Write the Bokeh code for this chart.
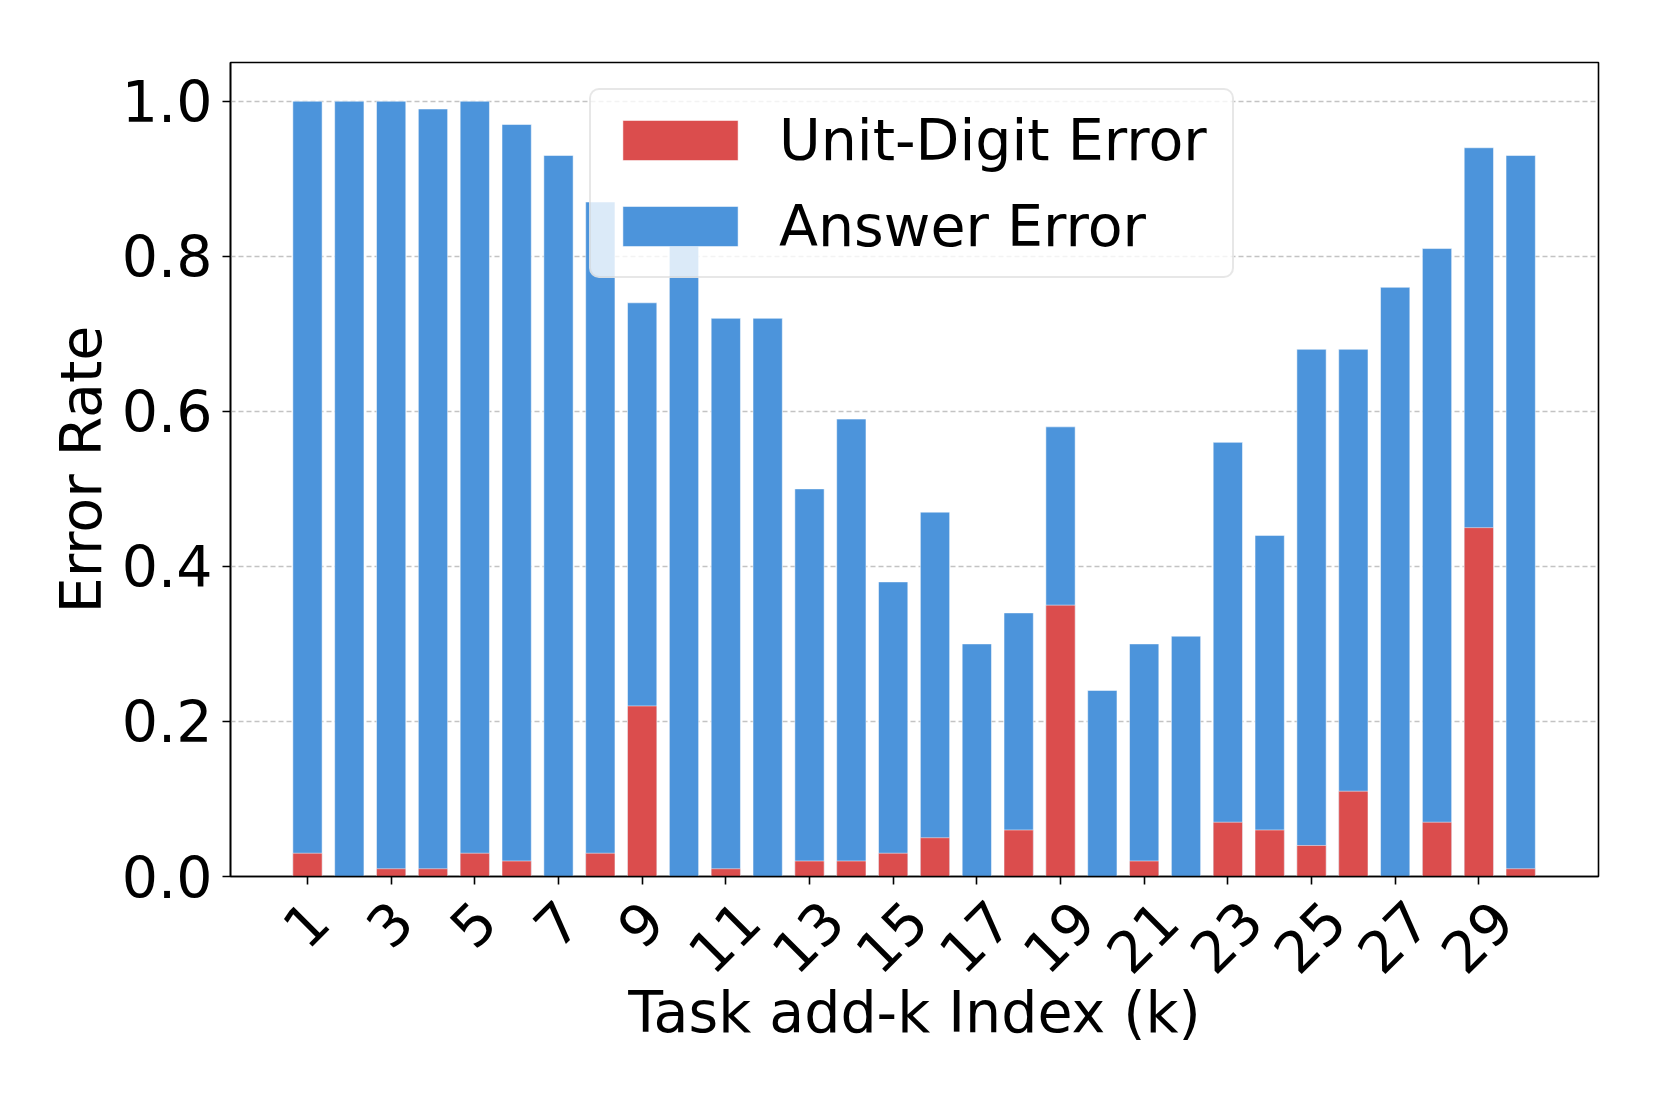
import math
from bokeh.plotting import figure
from bokeh.models import (ColumnDataSource, FixedTicker, Legend, LegendItem,
                          Range1d, PrintfTickFormatter)
from bokeh.core.properties import value
from bokeh.embed import file_html
from bokeh.resources import INLINE

# ---- data ----
tasks = list(range(1, 31))
answer_error = [1.00, 1.00, 1.00, 0.99, 1.00, 0.97, 0.93, 0.87, 0.74, 0.82,
                0.72, 0.72, 0.50, 0.59, 0.38, 0.47, 0.30, 0.34, 0.58, 0.24,
                0.30, 0.31, 0.56, 0.44, 0.68, 0.68, 0.76, 0.81, 0.94, 0.93]
unit_digit_error = [0.03, 0.00, 0.01, 0.01, 0.03, 0.02, 0.00, 0.03, 0.22, 0.00,
                    0.01, 0.00, 0.02, 0.02, 0.03, 0.05, 0.00, 0.06, 0.35, 0.00,
                    0.02, 0.00, 0.07, 0.06, 0.04, 0.11, 0.00, 0.07, 0.45, 0.01]
x_tick_values = list(range(1, 30, 2))
x_tick_labels = [str(v) for v in x_tick_values]
y_tick_values = [0.0, 0.2, 0.4, 0.6, 0.8, 1.0]

BLUE = "#4C94DB"
RED = "#DB4D4D"
FONT = "DejaVu Sans"
FS_PX = 57
FS = f"{FS_PX}px"

src = ColumnDataSource(dict(task=tasks, answer=answer_error, unit=unit_digit_error))

p = figure(width=1645, height=1090,
           x_range=Range1d(-0.84, 31.86), y_range=Range1d(0, 1.05),
           output_backend="svg", toolbar_location=None,
           min_border_left=230, min_border_right=47,
           min_border_top=62, min_border_bottom=214)
p.background_fill_color = "white"
p.border_fill_color = "white"
p.outline_line_color = "black"
p.outline_line_width = 1.6

blue = p.vbar(x="task", top="answer", bottom=0, width=0.7, source=src,
              fill_color=BLUE, line_color="white", line_alpha=0.5, line_width=1)
red = p.vbar(x="task", top="unit", bottom=0, width=0.7, source=src,
             fill_color=RED, line_color="white", line_alpha=0.5, line_width=1)

# grid
p.xgrid.visible = False
p.ygrid.ticker = FixedTicker(ticks=y_tick_values)
p.ygrid.grid_line_color = "#bdbdbd"
p.ygrid.grid_line_alpha = 0.9
p.ygrid.grid_line_dash = "5 3"
p.ygrid.grid_line_width = 1.3

# axes
for ax in (p.xaxis[0], p.yaxis[0]):
    ax.major_label_text_font = FONT
    ax.major_label_text_font_size = FS
    ax.major_label_text_color = "black"
    ax.axis_label_text_font = FONT
    ax.axis_label_text_font_size = FS
    ax.axis_label_text_font_style = "normal"
    ax.axis_label_text_color = "black"
    ax.axis_line_color = "black"
    ax.axis_line_width = 1.6
    ax.major_tick_line_color = "black"
    ax.major_tick_line_width = 1.6
    ax.major_tick_out = 8
    ax.major_tick_in = 0
    ax.minor_tick_out = 0
    ax.minor_tick_in = 0
    ax.major_label_standoff = 10

p.yaxis.ticker = FixedTicker(ticks=y_tick_values)
p.yaxis.formatter = PrintfTickFormatter(format="%.1f")
p.yaxis.axis_label = "Error Rate"
p.yaxis.axis_label_standoff = 5

# x axis: ticks from the axis, labels drawn centred (matplotlib style) below
p.xaxis.ticker = FixedTicker(ticks=x_tick_values)
p.xaxis.major_label_overrides = {v: "" for v in x_tick_values}
p.xaxis.major_label_standoff = 0
p.xaxis.axis_label = "Task add-k Index (k)"
p.xaxis.axis_label_standoff = 94

# centre of each rotated label sits half its rotated bounding box below the pad
char_w = 0.636 * FS_PX
text_h = 1.16 * FS_PX
label_yoff = [(11 + (char_w * len(s) + text_h) / (2 * math.sqrt(2))) for s in x_tick_labels]
lab_src = ColumnDataSource(dict(x=x_tick_values, y=[0.0] * len(x_tick_values),
                                text=x_tick_labels, yoff=label_yoff))
p.text(x="x", y="y", text="text", source=lab_src, level="overlay",
       y_offset="yoff", x_offset=-2, angle=math.pi / 4,
       text_align="center", text_baseline="middle",
       text_font=value(FONT), text_font_size=FS, text_color="black")

legend = Legend(items=[LegendItem(label="Unit-Digit Error", renderers=[red]),
                       LegendItem(label="Answer Error", renderers=[blue])],
                location=(359, 598))
legend.label_text_font = FONT
legend.label_text_font_size = FS
legend.label_text_color = "black"
legend.glyph_width = 144
legend.glyph_height = 50
legend.label_standoff = 27
legend.label_width = 436
legend.padding = 17
legend.spacing = 20
legend.margin = 0
legend.border_line_color = "#d0d0d0"
legend.border_line_width = 2
legend.background_fill_color = "white"
legend.background_fill_alpha = 0.8
if "border_radius" in Legend.properties():
    legend.border_radius = 10
p.add_layout(legend)

open("out.html", "w").write(file_html(p, INLINE))
